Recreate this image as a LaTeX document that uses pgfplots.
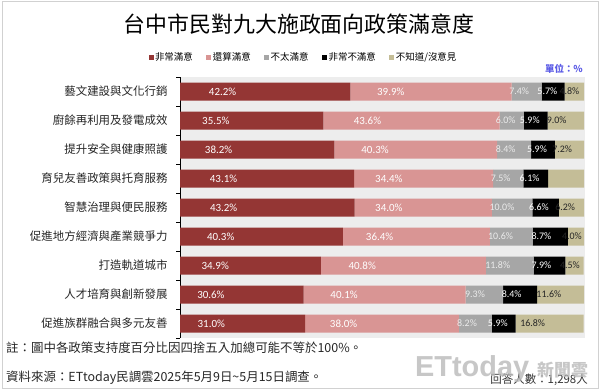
\documentclass[border=0pt]{standalone}
\usepackage{pgfplots}
\pgfplotsset{compat=1.18}
\usepackage{pgfplotstable}
\usepackage{fontspec}
\setmainfont{Noto Sans CJK TC}
\newfontfamily\cjk{Noto Sans CJK TC}
\newfontfamily\lat{Carlito}
\newfontfamily\logo{Liberation Sans}
\definecolor{c1}{HTML}{943634}
\definecolor{c2}{HTML}{D99594}
\definecolor{c3}{HTML}{A6A6A6}
\definecolor{c4}{HTML}{000000}
\definecolor{c5}{HTML}{C4BD97}
\definecolor{unit}{HTML}{5B5BE6}
\pgfplotstableread{
idx vs s ns vns dk
0 42.2 39.9 7.4 5.7 4.8
1 35.5 43.6 6.0 5.9 9.0
2 38.2 40.3 8.4 5.9 7.2
3 43.1 34.4 7.5 6.1 9.0
4 43.2 34.0 10.0 6.6 6.2
5 40.3 36.4 10.6 8.7 4.0
6 34.9 40.8 11.8 7.9 4.5
7 30.6 40.1 9.3 8.4 11.6
8 31.0 38.0 8.2 5.9 16.8
}\data
\begin{document}
\begin{tikzpicture}
\useasboundingbox (0,0) rectangle (600bp,392bp);
\fill[white] (0,0) rectangle (600bp,392bp);
\draw[draw=black!18, line width=1bp] (2bp,3bp) rectangle (598bp,390bp);
\fill[black!7] (180bp,54bp) rectangle (585bp,315bp);
\node[font=\cjk\fontsize{22}{24}\selectfont] at (299bp,368bp) {台中市民對九大施政面向政策滿意度};
\node[font=\cjk\bfseries\fontsize{9.5}{11}\selectfont, text=unit, anchor=east, inner sep=0pt] at (583bp,323bp) {單位：\%};
\begin{axis}[
  at={(180bp,54bp)}, anchor=south west,
  scale only axis, width=404bp, height=261bp,
  xbar stacked, bar width=18bp,
  xmin=0, xmax=100,
  ymin=-0.5, ymax=8.5, y dir=reverse,
  axis x line=none,
  axis y line*=left,
  axis line style={black, line width=0.8bp},
  ytick={0,...,8},
  yticklabels={藝文建設與文化行銷,廚餘再利用及發電成效,提升安全與健康照護,育兒友善政策與托育服務,智慧治理與便民服務,促進地方經濟與產業競爭力,打造軌道城市,人才培育與創新發展,促進族群融合與多元友善},
  minor ytick={-0.5,0.5,...,8.5},
  major tick length=0pt,
  minor tick length=4bp,
  ytick align=outside,
  minor tick style={black, line width=0.8bp},
  yticklabel style={font=\cjk\fontsize{11.5}{13}\selectfont, text=black!85, xshift=-9bp},
  legend style={at={(axis description cs:0.305,1)}, anchor=center, yshift=20bp, draw=none, fill=none,
    font=\cjk\fontsize{9.5}{11}\selectfont, legend columns=5,
    /tikz/every even column/.append style={column sep=12bp},
    nodes={inner sep=1.5bp}},
  legend image code/.code={\fill[#1] (0bp,-2.5bp) rectangle (5bp,2.5bp);},
  point meta=explicit,
  nodes near coords={\pgfmathprintnumber[fixed,fixed zerofill,precision=1,assume math mode=true]{\pgfplotspointmeta}\%},
  nodes near coords align=center,
  visualization depends on={rawx \as \rawx},
  every node near coord/.append style={anchor=center, shift={(axis direction cs:-\rawx/4,0)}, inner sep=0pt, font=\lat\fontsize{10}{11}\selectfont},
]
\addplot[fill=c1, draw=none, every node near coord/.append style={text=white, font=\lat\fontsize{11}{12}\selectfont}] table[x=vs, y=idx, meta=vs]{\data};
\addplot[fill=c2, draw=none, every node near coord/.append style={text=white, font=\lat\fontsize{11}{12}\selectfont}] table[x=s, y=idx, meta=s]{\data};
\addplot[fill=c3, draw=none, every node near coord/.append style={text=white!92!black}] table[x=ns, y=idx, meta=ns]{\data};
\addplot[fill=c4, draw=none, every node near coord/.append style={text=white}] table[x=vns, y=idx, meta=vns]{\data};
\addplot[fill=c5, draw=none, every node near coord/.append style={text=black!85}] table[x=dk, y=idx, meta=dk]{\data};
\legend{非常滿意,還算滿意,不太滿意,非常不滿意,不知道/沒意見}
\end{axis}
\node[anchor=west, font=\cjk\fontsize{12.5}{14}\selectfont, text=black!85, inner sep=0pt] at (6bp,44bp) {註：圖中各政策支持度百分比因四捨五入加總可能不等於100\%。};
\node[anchor=west, font=\cjk\fontsize{12.5}{14}\selectfont, text=black!85, inner sep=0pt] at (6bp,14bp) {資料來源：ETtoday民調雲2025年5月9日\textasciitilde 5月15日調查。};
\node[anchor=east, font=\cjk\fontsize{11.5}{13}\selectfont, text=black!80, inner sep=0pt] at (588bp,12bp) {回答人數：1,298人};
\node[anchor=west, font=\logo\bfseries\fontsize{29}{30}\selectfont, text=gray!55, opacity=0.8, inner sep=0pt] at (415bp,23bp) {ETtoday};
\node[anchor=west, font=\cjk\bfseries\fontsize{17}{18}\selectfont, text=gray!55, opacity=0.8, inner sep=0pt] at (537bp,22bp) {新聞雲};
\end{tikzpicture}
\end{document}
